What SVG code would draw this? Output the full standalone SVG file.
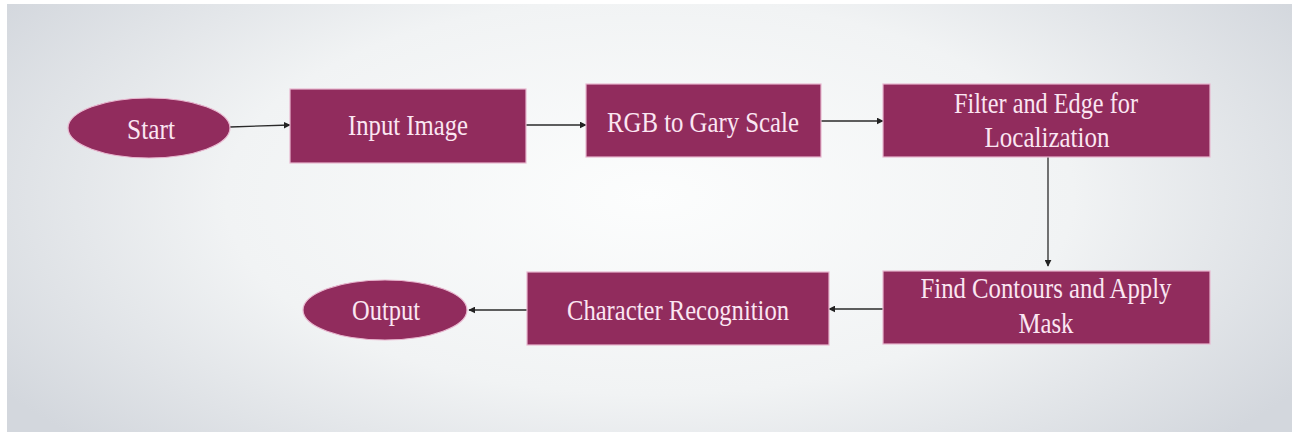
<svg xmlns="http://www.w3.org/2000/svg" width="1292" height="432" viewBox="0 0 1292 432">
<defs>
<radialGradient id="bg" cx="50%" cy="45%" r="60%" gradientTransform="translate(0.5,0.45) scale(1,1.4) translate(-0.5,-0.45)">
<stop offset="0" stop-color="#fcfdfd"/>
<stop offset="0.55" stop-color="#f1f3f4"/>
<stop offset="1" stop-color="#d3d7dd"/>
</radialGradient>
<marker id="ah" viewBox="0 0 10 10" refX="9" refY="5" markerWidth="7" markerHeight="7" markerUnits="userSpaceOnUse" orient="auto">
<path d="M0,0 L10,5 L0,10 z" fill="#222"/>
</marker>
<style>
.box{fill:#912c5d;stroke:#e8b7cf;stroke-width:1.2}
.lbl{font-family:"Liberation Serif","Times New Roman",serif;font-size:29px;fill:#fbe6f2;text-anchor:middle}
.con{stroke:#2a2a2a;stroke-width:1.3;fill:none;marker-end:url(#ah)}
</style>
</defs>
<rect width="1292" height="432" fill="#ffffff"/>
<rect x="7" y="4" width="1285" height="428" fill="url(#bg)"/>
<g id="connectors">
<line class="con" x1="230" y1="127" x2="290" y2="125"/>
<line class="con" x1="526" y1="125" x2="586" y2="125"/>
<line class="con" x1="821" y1="121" x2="883" y2="121"/>
<line class="con" x1="1048" y1="157" x2="1048" y2="266"/>
<line class="con" x1="883" y1="309" x2="829" y2="309"/>
<line class="con" x1="527" y1="310" x2="469" y2="310"/>
</g>
<g id="start">
<ellipse class="box" cx="149" cy="128" rx="81" ry="30"/>
<text class="lbl" font-family="Liberation Serif, serif" x="151" y="139" textLength="48" lengthAdjust="spacingAndGlyphs">Start</text>
</g>
<g id="input-image">
<rect class="box" x="290" y="89" width="236" height="74"/>
<text class="lbl" font-family="Liberation Serif, serif" x="408" y="135" textLength="120" lengthAdjust="spacingAndGlyphs">Input Image</text>
</g>
<g id="rgb-gray">
<rect class="box" x="586" y="84" width="235" height="73"/>
<text class="lbl" font-family="Liberation Serif, serif" x="703" y="132" textLength="192" lengthAdjust="spacingAndGlyphs">RGB to Gary Scale</text>
</g>
<g id="filter-edge">
<rect class="box" x="883" y="84" width="327" height="73"/>
<text class="lbl" font-family="Liberation Serif, serif" x="1046" y="113" textLength="184" lengthAdjust="spacingAndGlyphs">Filter and Edge for</text>
<text class="lbl" font-family="Liberation Serif, serif" x="1047" y="147" textLength="125" lengthAdjust="spacingAndGlyphs">Localization</text>
</g>
<g id="find-contours">
<rect class="box" x="883" y="271" width="327" height="73"/>
<text class="lbl" font-family="Liberation Serif, serif" x="1046" y="298" textLength="251" lengthAdjust="spacingAndGlyphs">Find Contours and Apply</text>
<text class="lbl" font-family="Liberation Serif, serif" x="1046" y="333" textLength="55" lengthAdjust="spacingAndGlyphs">Mask</text>
</g>
<g id="char-recognition">
<rect class="box" x="527" y="272" width="302" height="73"/>
<text class="lbl" font-family="Liberation Serif, serif" x="678" y="320" textLength="222" lengthAdjust="spacingAndGlyphs">Character Recognition</text>
</g>
<g id="output">
<ellipse class="box" cx="385" cy="310" rx="82" ry="30"/>
<text class="lbl" font-family="Liberation Serif, serif" x="386" y="320" textLength="68" lengthAdjust="spacingAndGlyphs">Output</text>
</g>
</svg>
